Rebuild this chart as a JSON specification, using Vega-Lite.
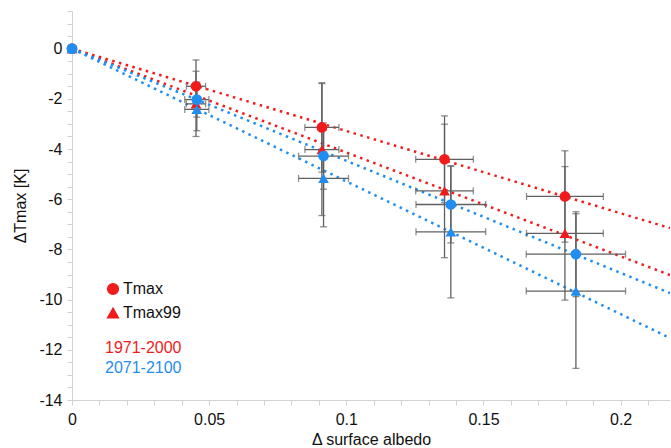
{
  "$schema": "https://vega.github.io/schema/vega-lite/v6.json",
  "width": 598,
  "height": 389,
  "autosize": {"type": "none"},
  "padding": {"left": 72, "top": 11, "right": 0, "bottom": 48},
  "background": "white",
  "config": {
    "view": {"stroke": null},
    "font": "Liberation Sans",
    "axis": {
      "grid": false,
      "domainColor": "#d3d3d3",
      "tickColor": "#d3d3d3",
      "tickSize": 5,
      "labelOverlap": false,
      "labelFont": "Liberation Sans",
      "labelFontSize": 16,
      "labelColor": "#111",
      "titleFont": "Liberation Sans",
      "titleFontSize": 16,
      "titleFontWeight": "normal",
      "titleColor": "#111"
    }
  },
  "datasets": {
    "pts": [
      {"var": "Tmax", "period": "1971-2000", "x": 0, "y": 0},
      {"var": "Tmax99", "period": "1971-2000", "x": 0, "y": 0},
      {"var": "Tmax", "period": "2071-2100", "x": 0, "y": 0},
      {"var": "Tmax99", "period": "2071-2100", "x": 0, "y": 0},
      {"var": "Tmax", "period": "1971-2000", "x": 0.0452, "y": -1.5, "xlo": 0.0417, "xhi": 0.0487, "ylo": -2.55, "yhi": -0.45},
      {"var": "Tmax", "period": "1971-2000", "x": 0.0911, "y": -3.14, "xlo": 0.0849, "xhi": 0.0973, "ylo": -4.92, "yhi": -1.36},
      {"var": "Tmax", "period": "1971-2000", "x": 0.1358, "y": -4.41, "xlo": 0.1253, "xhi": 0.1463, "ylo": -6.14, "yhi": -2.68},
      {"var": "Tmax", "period": "1971-2000", "x": 0.1797, "y": -5.89, "xlo": 0.1657, "xhi": 0.1937, "ylo": -7.71, "yhi": -4.07},
      {"var": "Tmax99", "period": "1971-2000", "x": 0.0452, "y": -2.2, "xlo": 0.0417, "xhi": 0.0487, "ylo": -3.5, "yhi": -0.9},
      {"var": "Tmax99", "period": "1971-2000", "x": 0.0911, "y": -4.02, "xlo": 0.0849, "xhi": 0.0973, "ylo": -6.65, "yhi": -1.39},
      {"var": "Tmax99", "period": "1971-2000", "x": 0.1358, "y": -5.67, "xlo": 0.1253, "xhi": 0.1463, "ylo": -8.33, "yhi": -3.01},
      {"var": "Tmax99", "period": "1971-2000", "x": 0.1797, "y": -7.36, "xlo": 0.1657, "xhi": 0.1937, "ylo": -10.02, "yhi": -4.7},
      {"var": "Tmax", "period": "2071-2100", "x": 0.0455, "y": -2.03, "xlo": 0.0411, "xhi": 0.0499, "ylo": -2.73, "yhi": -1.33},
      {"var": "Tmax", "period": "2071-2100", "x": 0.0917, "y": -4.28, "xlo": 0.0826, "xhi": 0.1008, "ylo": -5.6, "yhi": -2.96},
      {"var": "Tmax", "period": "2071-2100", "x": 0.1381, "y": -6.21, "xlo": 0.1254, "xhi": 0.1508, "ylo": -7.74, "yhi": -4.68},
      {"var": "Tmax", "period": "2071-2100", "x": 0.1837, "y": -8.19, "xlo": 0.1656, "xhi": 0.2018, "ylo": -9.88, "yhi": -6.5},
      {"var": "Tmax99", "period": "2071-2100", "x": 0.0455, "y": -2.42, "xlo": 0.0411, "xhi": 0.0499, "ylo": -3.27, "yhi": -1.57},
      {"var": "Tmax99", "period": "2071-2100", "x": 0.0917, "y": -5.17, "xlo": 0.0826, "xhi": 0.1008, "ylo": -7.1, "yhi": -3.24},
      {"var": "Tmax99", "period": "2071-2100", "x": 0.1381, "y": -7.3, "xlo": 0.1254, "xhi": 0.1508, "ylo": -9.93, "yhi": -4.67},
      {"var": "Tmax99", "period": "2071-2100", "x": 0.1837, "y": -9.66, "xlo": 0.1656, "xhi": 0.2018, "ylo": -12.74, "yhi": -6.58}
    ],
    "fits": [
      {"series": "Tmax 1971-2000", "period": "1971-2000", "x": 0, "y": 0},
      {"series": "Tmax 1971-2000", "period": "1971-2000", "x": 0.218, "y": -7.15},
      {"series": "Tmax99 1971-2000", "period": "1971-2000", "x": 0, "y": 0},
      {"series": "Tmax99 1971-2000", "period": "1971-2000", "x": 0.218, "y": -9.02},
      {"series": "Tmax 2071-2100", "period": "2071-2100", "x": 0, "y": 0},
      {"series": "Tmax 2071-2100", "period": "2071-2100", "x": 0.218, "y": -9.74},
      {"series": "Tmax99 2071-2100", "period": "2071-2100", "x": 0, "y": 0},
      {"series": "Tmax99 2071-2100", "period": "2071-2100", "x": 0.218, "y": -11.53}
    ]
  },
  "layer": [
    {
      "data": {"name": "fits"},
      "mark": {"type": "line", "strokeDash": [2.5, 4.5], "strokeWidth": 2.5},
      "encoding": {
        "x": {"field": "x", "type": "quantitative", "title": "Δ surface albedo",
          "axis": {"values": [0, 0.01, 0.02, 0.03, 0.04, 0.05, 0.06, 0.07, 0.08, 0.09, 0.1, 0.11, 0.12, 0.13, 0.14, 0.15, 0.16, 0.17, 0.18, 0.19, 0.2, 0.21], "labelExpr": "(datum.value == 0 || datum.value == 0.05 || datum.value == 0.1 || datum.value == 0.15 || datum.value == 0.2) ? '' + datum.value : ''", "labelOverlap": false, "labelBound": false, "labelFlush": false, "labelPadding": 6, "titlePadding": 4}},
        "y": {"field": "y", "type": "quantitative", "title": "ΔTmax [K]",
          "axis": {"values": [-14, -13.5, -13, -12.5, -12, -11.5, -11, -10.5, -10, -9.5, -9, -8.5, -8, -7.5, -7, -6.5, -6, -5.5, -5, -4.5, -4, -3.5, -3, -2.5, -2, -1.5, -1, -0.5, 0, 0.5, 1, 1.5], "labelExpr": "datum.value % 2 == 0 ? '' + datum.value : ''", "labelOverlap": false, "labelPadding": 5, "titlePadding": 10}},
        "detail": {"field": "series"},
        "color": {"field": "period", "type": "nominal"}
      }
    },
    {
      "data": {"name": "pts"},
      "transform": [{"filter": "isValid(datum.ylo)"}],
      "mark": {"type": "errorbar", "color": "#606060", "thickness": 1.3, "ticks": {"size": 7, "thickness": 1.3, "color": "#606060"}},
      "encoding": {
        "x": {"field": "x", "type": "quantitative", "title": "Δ surface albedo",
          "axis": {"values": [0, 0.01, 0.02, 0.03, 0.04, 0.05, 0.06, 0.07, 0.08, 0.09, 0.1, 0.11, 0.12, 0.13, 0.14, 0.15, 0.16, 0.17, 0.18, 0.19, 0.2, 0.21], "labelExpr": "(datum.value == 0 || datum.value == 0.05 || datum.value == 0.1 || datum.value == 0.15 || datum.value == 0.2) ? '' + datum.value : ''", "labelOverlap": false, "labelBound": false, "labelFlush": false, "labelPadding": 6, "titlePadding": 4}},
        "y": {"field": "ylo", "type": "quantitative", "title": "ΔTmax [K]",
          "axis": {"values": [-14, -13.5, -13, -12.5, -12, -11.5, -11, -10.5, -10, -9.5, -9, -8.5, -8, -7.5, -7, -6.5, -6, -5.5, -5, -4.5, -4, -3.5, -3, -2.5, -2, -1.5, -1, -0.5, 0, 0.5, 1, 1.5], "labelExpr": "datum.value % 2 == 0 ? '' + datum.value : ''", "labelOverlap": false, "labelPadding": 5, "titlePadding": 10}},
        "y2": {"field": "yhi"}
      }
    },
    {
      "data": {"name": "pts"},
      "transform": [{"filter": "isValid(datum.xlo)"}],
      "mark": {"type": "errorbar", "color": "#606060", "thickness": 1.3, "ticks": {"size": 7, "thickness": 1.3, "color": "#606060"}},
      "encoding": {
        "y": {"field": "y", "type": "quantitative", "title": "ΔTmax [K]",
          "axis": {"values": [-14, -13.5, -13, -12.5, -12, -11.5, -11, -10.5, -10, -9.5, -9, -8.5, -8, -7.5, -7, -6.5, -6, -5.5, -5, -4.5, -4, -3.5, -3, -2.5, -2, -1.5, -1, -0.5, 0, 0.5, 1, 1.5], "labelExpr": "datum.value % 2 == 0 ? '' + datum.value : ''", "labelOverlap": false, "labelPadding": 5, "titlePadding": 10}},
        "x": {"field": "xlo", "type": "quantitative", "title": "Δ surface albedo",
          "axis": {"values": [0, 0.01, 0.02, 0.03, 0.04, 0.05, 0.06, 0.07, 0.08, 0.09, 0.1, 0.11, 0.12, 0.13, 0.14, 0.15, 0.16, 0.17, 0.18, 0.19, 0.2, 0.21], "labelExpr": "(datum.value == 0 || datum.value == 0.05 || datum.value == 0.1 || datum.value == 0.15 || datum.value == 0.2) ? '' + datum.value : ''", "labelOverlap": false, "labelBound": false, "labelFlush": false, "labelPadding": 6, "titlePadding": 4}},
        "x2": {"field": "xhi"}
      }
    },
    {
      "data": {"name": "pts"},
      "mark": {"type": "point", "filled": true, "opacity": 1, "size": 115},
      "encoding": {
        "x": {
          "field": "x", "type": "quantitative", "title": "Δ surface albedo",
          "scale": {"domain": [0, 0.218], "nice": false, "zero": false},
          "axis": {"values": [0, 0.01, 0.02, 0.03, 0.04, 0.05, 0.06, 0.07, 0.08, 0.09, 0.1, 0.11, 0.12, 0.13, 0.14, 0.15, 0.16, 0.17, 0.18, 0.19, 0.2, 0.21], "labelExpr": "(datum.value == 0 || datum.value == 0.05 || datum.value == 0.1 || datum.value == 0.15 || datum.value == 0.2) ? '' + datum.value : ''", "labelOverlap": false, "labelBound": false, "labelFlush": false, "labelPadding": 6, "titlePadding": 4}
        },
        "y": {
          "field": "y", "type": "quantitative", "title": "ΔTmax [K]",
          "scale": {"domain": [-14, 1.5], "nice": false, "zero": false},
          "axis": {"values": [-14, -13.5, -13, -12.5, -12, -11.5, -11, -10.5, -10, -9.5, -9, -8.5, -8, -7.5, -7, -6.5, -6, -5.5, -5, -4.5, -4, -3.5, -3, -2.5, -2, -1.5, -1, -0.5, 0, 0.5, 1, 1.5], "labelExpr": "datum.value % 2 == 0 ? '' + datum.value : ''", "labelOverlap": false, "labelPadding": 5, "titlePadding": 10}
        },
        "color": {
          "field": "period", "type": "nominal",
          "scale": {"domain": ["1971-2000", "2071-2100"], "range": ["#f01c1c", "#1f8ef0"]},
          "legend": {
            "orient": "none", "legendX": 17, "legendY": 329, "title": null,
            "symbolOpacity": 0, "symbolSize": 0, "labelFontSize": 16, "labelFont": "Liberation Sans",
            "rowPadding": 4, "labelOffset": 0,
            "encode": {"labels": {"update": {"fill": {"signal": "datum.value === '1971-2000' ? '#f01c1c' : '#1f8ef0'"}}}}
          }
        },
        "shape": {
          "field": "var", "type": "nominal",
          "scale": {"domain": ["Tmax", "Tmax99"], "range": ["circle", "triangle-up"]},
          "legend": {
            "orient": "none", "legendX": 33, "legendY": 270, "title": null,
            "symbolSize": 115, "labelFontSize": 16, "labelFont": "Liberation Sans", "labelColor": "#111",
            "rowPadding": 7, "labelOffset": 2,
            "symbolFillColor": "#f01c1c", "symbolStrokeColor": "#f01c1c",
            "encode": {"symbols": {"update": {"fill": {"value": "#f01c1c"}, "stroke": {"value": "#f01c1c"}, "opacity": {"value": 1}}}}
          }
        }
      }
    }
  ]
}
